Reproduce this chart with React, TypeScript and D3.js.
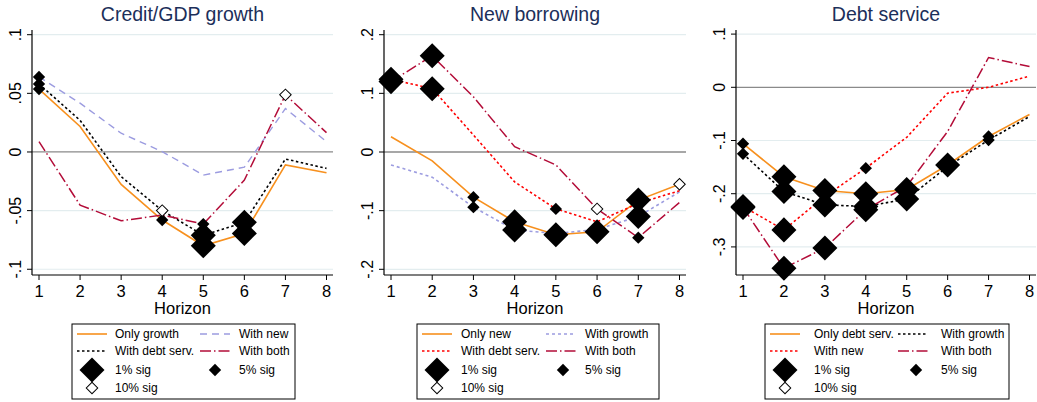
import * as d3 from "d3";

const horizons = [1, 2, 3, 4, 5, 6, 7, 8];

// Credit/GDP growth panel
const creditOnlyGrowth = [0.0536, 0.0217, -0.0276, -0.058, -0.08, -0.0695, -0.011, -0.0177];
const creditWithNew = [0.064, 0.0416, 0.016, 0.0003, -0.0197, -0.013, 0.037, 0.0088];
const creditWithDebtServ = [0.058, 0.027, -0.021, -0.05, -0.071, -0.06, -0.006, -0.014];
const creditWithBoth = [0.0088, -0.0453, -0.0587, -0.0538, -0.0615, -0.024, 0.0487, 0.0165];
const creditOnlyGrowthSig = ["5", "", "", "5", "1", "1", "", ""];
const creditWithNewSig = ["5", "", "", "", "", "", "", ""];
const creditWithDebtServSig = ["5", "", "", "10", "1", "1", "", ""];
const creditWithBothSig = ["", "", "", "", "5", "", "10", ""];

// New borrowing panel
const newOnlyNew = [0.026, -0.015, -0.077, -0.119, -0.141, -0.136, -0.082, -0.055];
const newWithGrowth = [-0.022, -0.043, -0.094, -0.133, -0.139, -0.132, -0.11, -0.068];
const newWithDebtServ = [0.124, 0.108, 0.029, -0.051, -0.097, -0.119, -0.0875, -0.066];
const newWithBoth = [0.12, 0.164, 0.094, 0.009, -0.022, -0.097, -0.146, -0.086];
const newOnlyNewSig = ["", "", "5", "1", "1", "1", "1", "10"];
const newWithGrowthSig = ["", "", "5", "1", "", "", "1", ""];
const newWithDebtServSig = ["1", "1", "", "", "5", "", "", ""];
const newWithBothSig = ["1", "1", "", "", "", "10", "5", ""];

// Debt service panel
const debtOnlyDebtServ = [-0.106, -0.168, -0.194, -0.2, -0.192, -0.146, -0.0925, -0.051];
const debtWithGrowth = [-0.125, -0.196, -0.221, -0.224, -0.21, -0.149, -0.099, -0.055];
const debtWithNew = [-0.224, -0.268, -0.205, -0.152, -0.094, -0.011, 0.0, 0.021];
const debtWithBoth = [-0.226, -0.34, -0.302, -0.23, -0.186, -0.083, 0.056, 0.039];
const debtOnlyDebtServSig = ["5", "1", "1", "1", "1", "1", "5", ""];
const debtWithGrowthSig = ["5", "1", "1", "1", "1", "", "5", ""];
const debtWithNewSig = ["1", "1", "", "5", "", "", "", ""];
const debtWithBothSig = ["1", "1", "1", "1", "", "", "", ""];

const creditTicks = [-0.1, -0.05, 0, 0.05, 0.1];
const newTicks = [-0.2, -0.1, 0, 0.1, 0.2];
const debtTicks = [-0.3, -0.2, -0.1, 0, 0.1];

type StyleKey = "orange" | "blackDot" | "lavLong" | "lavShort" | "redDot" | "crimson";

const styles: Record<StyleKey, { stroke: string; width: number; dash?: string }> = {
  orange: { stroke: "#f7901e", width: 1.6 },
  blackDot: { stroke: "#000000", width: 1.6, dash: "2.5 2.5" },
  lavLong: { stroke: "#9c9ce0", width: 1.4, dash: "7 5" },
  lavShort: { stroke: "#9c9ce0", width: 1.6, dash: "3 3" },
  redDot: { stroke: "#ff0000", width: 1.6, dash: "2.5 2.5" },
  crimson: { stroke: "#b30c38", width: 1.5, dash: "11 3 1.5 3" }
};

interface Series {
  label: string;
  style: StyleKey;
  values: number[];
  sig: string[];
}

interface Panel {
  title: string;
  ticks: number[];
  tickLabels: string[];
  domain: [number, number];
  left: number;
  right: number;
  series: Series[];
  legend: { left: number; width: number; text1: number; sample2: number; text2: number; diamond2: number };
}

const fmt = (v: number) => (v === 0 ? "0" : String(v).replace("0.", "."));

const panels: Panel[] = [
  {
    title: "Credit/GDP growth",
    ticks: creditTicks,
    tickLabels: creditTicks.map(fmt),
    domain: [-0.1049, 0.104],
    left: 32,
    right: 333,
    series: [
      { label: "Only growth", style: "orange", values: creditOnlyGrowth, sig: creditOnlyGrowthSig },
      { label: "With new", style: "lavLong", values: creditWithNew, sig: creditWithNewSig },
      { label: "With debt serv.", style: "blackDot", values: creditWithDebtServ, sig: creditWithDebtServSig },
      { label: "With both", style: "crimson", values: creditWithBoth, sig: creditWithBothSig }
    ],
    legend: { left: 72, width: 223, text1: 43, sample2: 128, text2: 167, diamond2: 143 }
  },
  {
    title: "New borrowing",
    ticks: newTicks,
    tickLabels: newTicks.map(fmt),
    domain: [-0.2097, 0.208],
    left: 384,
    right: 686,
    series: [
      { label: "Only new", style: "orange", values: newOnlyNew, sig: newOnlyNewSig },
      { label: "With growth", style: "lavShort", values: newWithGrowth, sig: newWithGrowthSig },
      { label: "With debt serv.", style: "redDot", values: newWithDebtServ, sig: newWithDebtServSig },
      { label: "With both", style: "crimson", values: newWithBoth, sig: newWithBothSig }
    ],
    legend: { left: 417, width: 242, text1: 44, sample2: 129, text2: 168, diamond2: 146 }
  },
  {
    title: "Debt service",
    ticks: debtTicks,
    tickLabels: debtTicks.map(fmt),
    domain: [-0.3528, 0.1077],
    left: 736,
    right: 1036,
    series: [
      { label: "Only debt serv.", style: "orange", values: debtOnlyDebtServ, sig: debtOnlyDebtServSig },
      { label: "With growth", style: "blackDot", values: debtWithGrowth, sig: debtWithGrowthSig },
      { label: "With new", style: "redDot", values: debtWithNew, sig: debtWithNewSig },
      { label: "With both", style: "crimson", values: debtWithBoth, sig: debtWithBothSig }
    ],
    legend: { left: 765, width: 244, text1: 49, sample2: 133, text2: 176, diamond2: 151 }
  }
];

const plotTop = 30;
const plotBottom = 275;
const font = "'Liberation Sans', Arial, Helvetica, sans-serif";
const titleColor = "#1c2f5a";

const bigDiamond = d3.symbol(d3.symbolSquare, 313)()!;
const smallDiamond = d3.symbol(d3.symbolSquare, 76)()!;
const hollowDiamond = d3.symbol(d3.symbolSquare, 66)()!;

function Marker({ x, y, sig }: { x: number; y: number; sig: string }) {
  if (sig === "1") {
    return <path d={bigDiamond} transform={`translate(${x},${y}) rotate(45)`} fill="#000" />;
  }
  if (sig === "5") {
    return <path d={smallDiamond} transform={`translate(${x},${y}) rotate(45)`} fill="#000" />;
  }
  if (sig === "10") {
    return (
      <path
        d={hollowDiamond}
        transform={`translate(${x},${y}) rotate(45)`}
        fill="#fff"
        stroke="#000"
        strokeWidth={1}
      />
    );
  }
  return null;
}

function PanelChart({ panel }: { panel: Panel }) {
  const x = d3.scaleLinear().domain([1, 8]).range([panel.left + 7, panel.right - 6.5]);
  const y = d3.scaleLinear().domain(panel.domain).range([plotBottom, plotTop]);
  const mid = (panel.left + panel.right) / 2;
  const path = d3
    .line<number>()
    .x((_, i) => x(horizons[i]))
    .y((v) => y(v));
  const lg = panel.legend;
  const rows = [334, 351, 370, 388];

  return (
    <g>
      <text x={mid} y={21} textAnchor="middle" fontSize={19.5} fill={titleColor} fontFamily={font}>
        {panel.title}
      </text>
      {panel.ticks.map((t) => (
        <line
          key={`g${t}`}
          x1={panel.left}
          x2={panel.right}
          y1={y(t)}
          y2={y(t)}
          stroke={t === 0 ? "#8a8a8a" : "#e3edef"}
          strokeWidth={t === 0 ? 1.3 : 1.2}
        />
      ))}
      {panel.series.map((s) => {
        const st = styles[s.style];
        return (
          <path
            key={s.label}
            d={path(s.values) ?? ""}
            fill="none"
            stroke={st.stroke}
            strokeWidth={st.width}
            strokeDasharray={st.dash}
          />
        );
      })}
      {panel.series.map((s) =>
        s.values.map((v, i) => (
          <Marker key={`${s.label}${i}`} x={x(horizons[i])} y={y(v)} sig={s.sig[i]} />
        ))
      )}
      <line x1={panel.left} x2={panel.left} y1={plotTop} y2={plotBottom} stroke="#000" strokeWidth={1.2} />
      <line x1={panel.left} x2={panel.right} y1={plotBottom} y2={plotBottom} stroke="#000" strokeWidth={1.2} />
      {panel.ticks.map((t, i) => (
        <g key={`t${t}`}>
          <line x1={panel.left - 5} x2={panel.left} y1={y(t)} y2={y(t)} stroke="#000" strokeWidth={1} />
          <text
            transform={`translate(${panel.left - 11},${y(t)}) rotate(-90)`}
            textAnchor="middle"
            fontSize={16}
            fontFamily={font}
            fill="#000"
          >
            {panel.tickLabels[i]}
          </text>
        </g>
      ))}
      {horizons.map((h) => (
        <g key={`h${h}`}>
          <line x1={x(h)} x2={x(h)} y1={plotBottom} y2={plotBottom + 5} stroke="#000" strokeWidth={1} />
          <text x={x(h)} y={296.5} textAnchor="middle" fontSize={16.5} fontFamily={font} fill="#000">
            {h}
          </text>
        </g>
      ))}
      <text x={mid} y={313.5} textAnchor="middle" fontSize={16.5} fontFamily={font} fill="#000">
        Horizon
      </text>
      <rect x={lg.left} y={324} width={lg.width} height={75} fill="#fff" stroke="#000" strokeWidth={1} />
      {panel.series.map((s, i) => {
        const st = styles[s.style];
        const col = i % 2;
        const row = Math.floor(i / 2);
        const sx = lg.left + (col === 0 ? 5 : lg.sample2);
        const tx = lg.left + (col === 0 ? lg.text1 : lg.text2);
        return (
          <g key={`l${s.label}`}>
            <line
              x1={sx}
              x2={sx + 30}
              y1={rows[row]}
              y2={rows[row]}
              stroke={st.stroke}
              strokeWidth={st.width}
              strokeDasharray={st.dash}
            />
            <text x={tx} y={rows[row] + 4} fontSize={12} fontFamily={font} fill="#000">
              {s.label}
            </text>
          </g>
        );
      })}
      <Marker x={lg.left + 20} y={rows[2]} sig="1" />
      <text x={lg.left + lg.text1} y={rows[2] + 4} fontSize={12} fontFamily={font}>
        1% sig
      </text>
      <Marker x={lg.left + lg.diamond2} y={rows[2]} sig="5" />
      <text x={lg.left + lg.text2} y={rows[2] + 4} fontSize={12} fontFamily={font}>
        5% sig
      </text>
      <Marker x={lg.left + 20} y={rows[3]} sig="10" />
      <text x={lg.left + lg.text1} y={rows[3] + 4} fontSize={12} fontFamily={font}>
        10% sig
      </text>
    </g>
  );
}

export default function App() {
  return (
    <div style={{ position: "absolute", left: 0, top: 0 }}>
      <svg width={1037} height={402} viewBox="0 0 1037 402" style={{ display: "block", background: "#fff" }}>
        {panels.map((p) => (
          <PanelChart key={p.title} panel={p} />
        ))}
      </svg>
    </div>
  );
}
